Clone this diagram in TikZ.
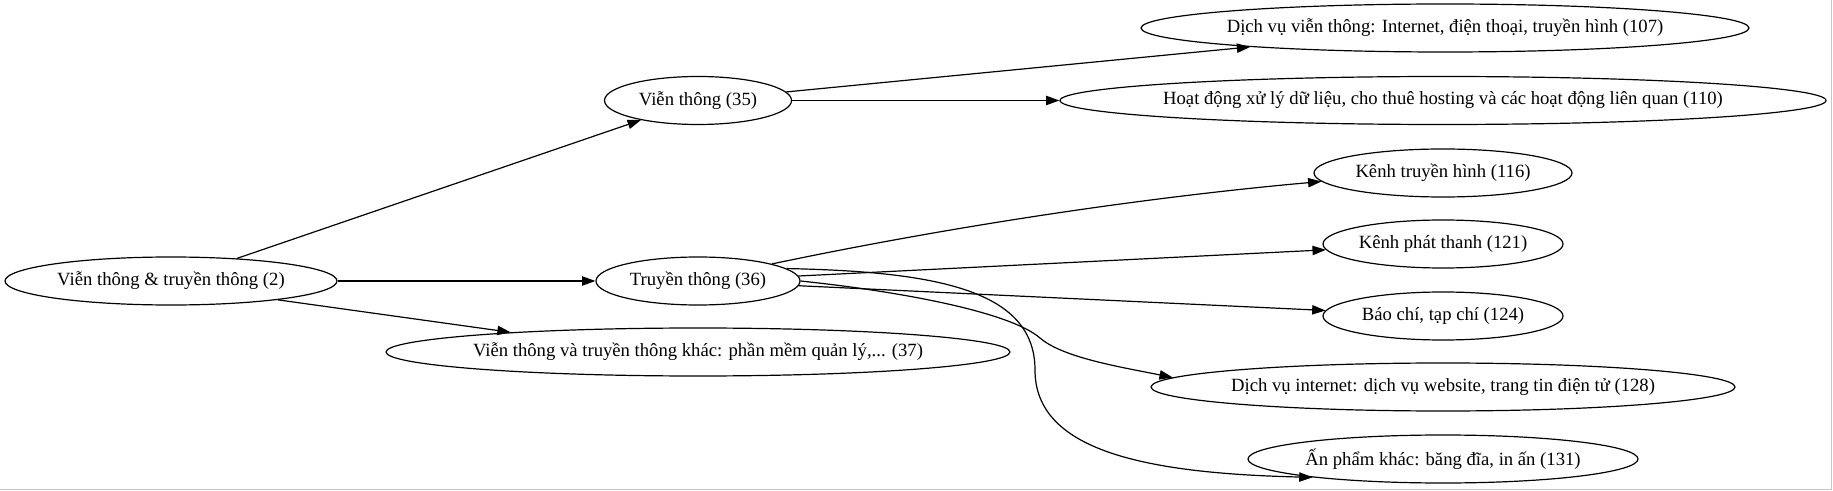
\documentclass[tikz,border=0pt]{standalone}
\usepackage{fontspec}
\setmainfont{Liberation Serif}
\usetikzlibrary{arrows.meta,shapes.geometric}
\begin{document}
\begin{tikzpicture}[x=0.75pt,y=-0.75pt,
  nd/.style={draw, ellipse, line width=0.9pt, inner sep=0pt, minimum height=36pt,
    font=\fontsize{14}{16}\selectfont},
  edge/.style={draw, line width=0.9pt, -{Triangle[length=10pt,width=7pt]}},
  frameline/.style={draw=gray!45, line width=0.75pt}]
\useasboundingbox (0,0) rectangle (1833,491);
\node[nd, minimum width=249pt] (root) at (171,281) {\makebox[0pt]{Viễn thông \& truyền thông (2)}};
\node[nd, minimum width=140.25pt] (vt) at (698,100.5) {\makebox[0pt]{Viễn thông (35)}};
\node[nd, minimum width=153pt] (tt) at (698,281) {\makebox[0pt]{Truyền thông (36)}};
\node[nd, minimum width=468pt] (k37) at (698,352) {\makebox[0pt]{Viễn thông và truyền thông khác: phần mềm quản lý,... (37)}};
\node[nd, minimum width=456pt] (n107) at (1445,28) {\makebox[0pt]{Dịch vụ viễn thông: Internet, điện thoại, truyền hình (107)}};
\node[nd, minimum width=574.5pt] (n110) at (1443,100.5) {\makebox[0pt]{Hoạt động xử lý dữ liệu, cho thuê hosting và các hoạt động liên quan (110)}};
\node[nd, minimum width=193.5pt] (n116) at (1443,173) {\makebox[0pt]{Kênh truyền hình (116)}};
\node[nd, minimum width=180pt] (n121) at (1443,244) {\makebox[0pt]{Kênh phát thanh (121)}};
\node[nd, minimum width=180pt] (n124) at (1443,316) {\makebox[0pt]{Báo chí, tạp chí (124)}};
\node[nd, minimum width=438pt] (n128) at (1443,387) {\makebox[0pt]{Dịch vụ internet: dịch vụ website, trang tin điện tử (128)}};
\node[nd, minimum width=292.5pt] (n131) at (1443,459) {\makebox[0pt]{Ấn phẩm khác: băng đĩa, in ấn (131)}};
\coordinate (w128) at (1040,338);
\coordinate (w131) at (1035,370);
\draw[edge] (root) -- (vt);
\draw[edge] (root) -- (tt);
\draw[edge] (root.-10) -- (k37.174);
\draw[edge] (vt) -- (n107);
\draw[edge] (vt) -- (n110);
\draw[edge] (tt.13) .. controls +(176,-37) and +(-179,16) .. (n116.184);
\draw[edge] (tt) -- (n121);
\draw[edge] (tt) -- (n124);
\draw[edge] (tt.east) .. controls +(100,10.5) and +(-30,-26) .. (w128)
  .. controls +(23,20) and +(-49,-10) .. (n128.178.5);
\draw[edge] (tt.8) .. controls +(150,3) and +(0,-80) .. (w131)
  .. controls +(0,80) and +(-170,-4) .. (n131.188.5);
\draw[frameline] (0,489) -- (1831,489) -- (1831,0);
\end{tikzpicture}
\end{document}
